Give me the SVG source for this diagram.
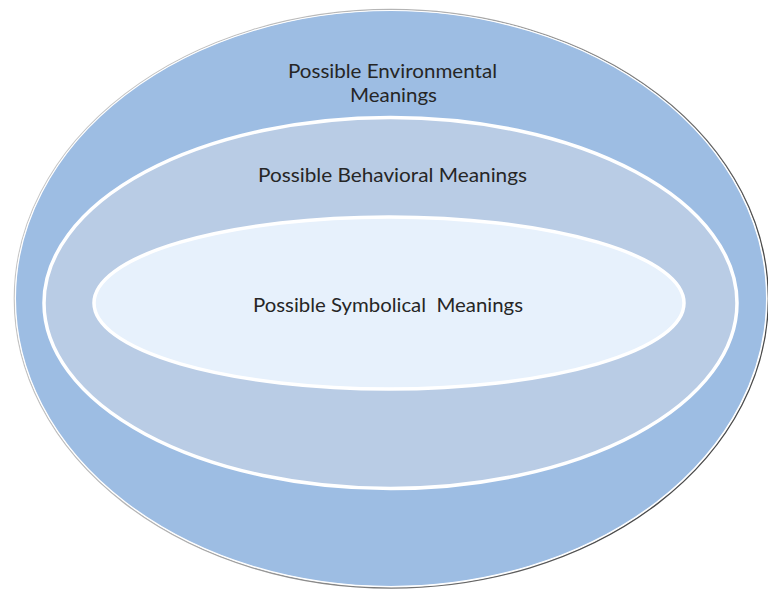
<svg xmlns="http://www.w3.org/2000/svg" width="768" height="589" viewBox="0 0 768 589">
  <defs>
    <linearGradient id="rim" x1="0" y1="0" x2="1" y2="0.4">
      <stop offset="0" stop-color="#d0d0d0"/>
      <stop offset="0.5" stop-color="#b0b0b0"/>
      <stop offset="1" stop-color="#4a4a4a"/>
    </linearGradient>
  </defs>
  <style>
    .lbl { font-family: Lato, "Open Sans", "Liberation Sans", sans-serif; font-size: 20px; fill: #262626; text-anchor: middle; }
    .ring { stroke: #ffffff; stroke-width: 3.5; }
  </style>
  <rect width="768" height="589" fill="#ffffff"/>
  <g id="environmental">
    <ellipse cx="391.3" cy="298.8" rx="377" ry="289.3" fill="none" stroke="url(#rim)" stroke-width="1.3"/>
    <ellipse cx="391" cy="298.5" rx="375.6" ry="288" fill="#9dbde3" stroke="#ffffff" stroke-width="1.2"/>
    <text class="lbl" x="392.5" y="78" textLength="209" lengthAdjust="spacingAndGlyphs">Possible Environmental</text>
    <text class="lbl" x="393.5" y="102" textLength="87" lengthAdjust="spacingAndGlyphs">Meanings</text>
  </g>
  <g id="behavioral">
    <ellipse class="ring" cx="390.5" cy="303" rx="346.5" ry="185.5" fill="#b9cce5"/>
    <text class="lbl" x="392.5" y="182" textLength="269" lengthAdjust="spacingAndGlyphs">Possible Behavioral Meanings</text>
  </g>
  <g id="symbolical">
    <ellipse class="ring" cx="389" cy="303" rx="295" ry="86" fill="#e7f1fc"/>
    <text class="lbl" x="388" y="312" textLength="270" lengthAdjust="spacingAndGlyphs" xml:space="preserve">Possible Symbolical  Meanings</text>
  </g>
  <g id="connectors"/>
</svg>
